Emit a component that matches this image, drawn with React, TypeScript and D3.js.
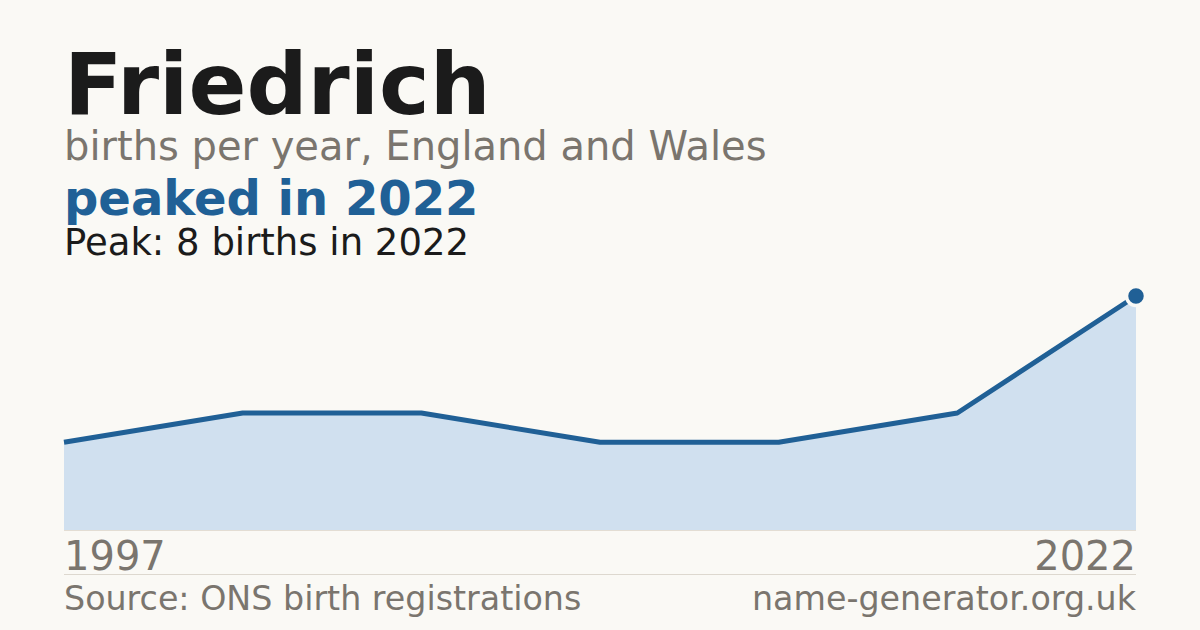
import * as d3 from "d3";

const years = [1997, 2001, 2005, 2009, 2013, 2017, 2022];
const births = [3, 4, 4, 3, 3, 4, 8];
const startLabel = "1997";
const endLabel = "2022";

const W = 1200;
const H = 630;
const FONT = "'DejaVu Sans', sans-serif";

export default function App() {
  const x = d3
    .scaleLinear()
    .domain([0, years.length - 1])
    .range([64, 1136]);
  const y = d3.scaleLinear().domain([0, 8]).range([530, 296]);

  const pts = births.map((v, i) => ({ i, v }));
  const area = d3
    .area<{ i: number; v: number }>()
    .x((d) => x(d.i))
    .y0(y(0))
    .y1((d) => y(d.v));
  const line = d3
    .line<{ i: number; v: number }>()
    .x((d) => x(d.i))
    .y((d) => y(d.v));

  const peakIdx = births.indexOf(d3.max(births) ?? 0);

  return (
    <svg
      width={W}
      height={H}
      style={{ position: "absolute", left: 0, top: 0, display: "block" }}
      fontFamily={FONT}
    >
      <rect width={W} height={H} fill="#faf9f5" />
      <text x={64} y={114} fontSize={85.5} fontWeight="bold" fill="#1b1b1b">
        Friedrich
      </text>
      <text x={64} y={160} fontSize={40} fill="#7a756e">
        births per year, England and Wales
      </text>
      <text x={64} y={215} fontSize={48} fontWeight="bold" fill="#206096">
        peaked in 2022
      </text>
      <text x={64} y={255} fontSize={37} fill="#1b1b1b">
        Peak: 8 births in 2022
      </text>

      <path d={area(pts) ?? ""} fill="#d0e0ef" />
      <line x1={64} x2={1136} y1={530.5} y2={530.5} stroke="#e3ddd3" strokeWidth={1} />
      <path
        d={line(pts) ?? ""}
        fill="none"
        stroke="#206096"
        strokeWidth={5}
        strokeLinejoin="round"
      />
      <circle
        cx={x(peakIdx)}
        cy={y(births[peakIdx])}
        r={9.5}
        fill="#206096"
        stroke="#faf9f5"
        strokeWidth={3.5}
      />

      <text x={64} y={570} fontSize={40} fill="#7a756e">
        {startLabel}
      </text>
      <text x={1136} y={570} fontSize={40} fill="#7a756e" textAnchor="end">
        {endLabel}
      </text>
      <line x1={64} x2={1136} y1={574.5} y2={574.5} stroke="#ddd8cf" strokeWidth={1} />
      <text x={64} y={610} fontSize={33.3} fill="#7a756e">
        Source: ONS birth registrations
      </text>
      <text x={1136} y={610} fontSize={33.3} fill="#7a756e" textAnchor="end">
        name-generator.org.uk
      </text>
    </svg>
  );
}
